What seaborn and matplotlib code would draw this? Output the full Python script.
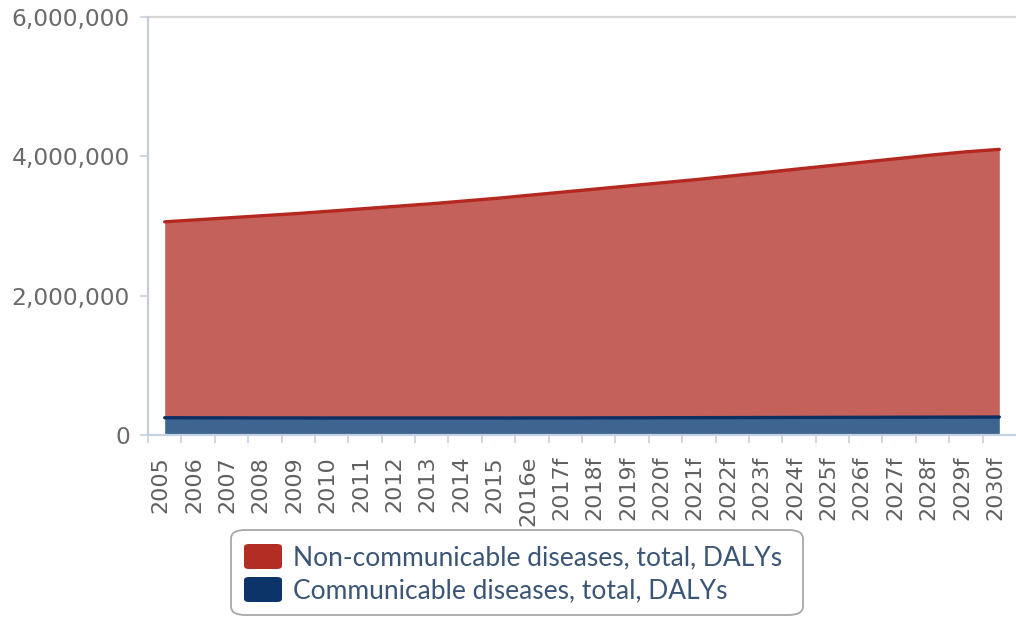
import matplotlib
matplotlib.use("Agg")
import matplotlib.pyplot as plt
import matplotlib.transforms as mtransforms
from matplotlib.patches import FancyBboxPatch
from matplotlib.ticker import FuncFormatter, FixedLocator
import seaborn as sns
import pandas as pd
import numpy as np

# --- data -------------------------------------------------------------------
years = ["2005", "2006", "2007", "2008", "2009", "2010", "2011", "2012", "2013",
         "2014", "2015", "2016e", "2017f", "2018f", "2019f", "2020f", "2021f",
         "2022f", "2023f", "2024f", "2025f", "2026f", "2027f", "2028f", "2029f",
         "2030f"]

communicable = [248000, 247000, 246000, 245000, 245000, 244000, 244000, 244000,
                244000, 244000, 244000, 245000, 245000, 246000, 247000, 248000,
                249000, 250000, 251000, 252000, 253000, 254000, 255000, 256000,
                257000, 258000]

non_communicable = [2812000, 2843000, 2874000, 2905000, 2935000, 2971000,
                    3006000, 3041000, 3076000, 3116000, 3156000, 3200000,
                    3245000, 3289000, 3333000, 3377000, 3421000, 3470000,
                    3519000, 3568000, 3617000, 3666000, 3715000, 3764000,
                    3808000, 3842000]

labels = ["Non-communicable diseases, total, DALYs",
          "Communicable diseases, total, DALYs"]
ytick_values = [0, 2000000, 4000000, 6000000]

# --- style ------------------------------------------------------------------
sns.set_theme(style="white")
plt.rcParams["font.family"] = ["DejaVu Sans"]

RED_FILL = "#c4615a"
RED_LINE = "#b4281f"
RED_KEY = "#b22d24"
BLUE_FILL = "#3e6590"
BLUE_LINE = "#0d2f62"
BLUE_KEY = "#0d3469"

x = np.arange(len(years))
comm = np.array(communicable, dtype=float)
total = comm + np.array(non_communicable, dtype=float)

df = pd.DataFrame({"x": np.concatenate([x, x]),
                   "y": np.concatenate([comm, total]),
                   "series": ["comm"] * len(x) + ["total"] * len(x)})

W, H = 1016, 617
fig = plt.figure(figsize=(W / 100, H / 100), dpi=100)
ax = fig.add_axes([148 / W, (H - 435) / H, (1016 - 148) / W, (435 - 17) / H])

# stacked areas
ax.fill_between(x, 0, comm, color=BLUE_FILL, lw=0, zorder=2)
ax.fill_between(x, comm, total, color=RED_FILL, lw=0, zorder=2)

# series edges
sns.lineplot(data=df, x="x", y="y", hue="series",
             palette={"comm": BLUE_LINE, "total": RED_LINE},
             linewidth=2.4, legend=False, ax=ax, zorder=3)

ax.set_xlim(-0.5, len(years) - 0.5)
ax.set_ylim(0, 6000000)
ax.set_xlabel("")
ax.set_ylabel("")

# gridline at the top value
ax.axhline(6000000, color="#d6d6d6", lw=1.6, zorder=1, clip_on=False)

# axes lines
for side in ["top", "right"]:
    ax.spines[side].set_visible(False)
ax.spines["left"].set_color("#c9ced6")
ax.spines["left"].set_linewidth(1.6)
ax.spines["bottom"].set_color("#c4d2e2")
ax.spines["bottom"].set_linewidth(1.6)
ax.spines["bottom"].set_zorder(4)

# y axis
ax.yaxis.set_major_locator(FixedLocator(ytick_values))
ax.yaxis.set_major_formatter(FuncFormatter(lambda v, p: f"{int(v):,}"))
ax.tick_params(axis="y", which="major", left=True, length=6, width=1.2,
               color="#c4d2e2", pad=7, labelsize=16.8, labelcolor="#6a6a6a")

# x axis: category labels at centres, tick marks at category boundaries
ax.set_xticks(x)
ax.set_xticklabels(years, rotation=90, ha="center", va="top")
ax.set_xticks(np.arange(len(years)) - 0.5, minor=True)
ax.tick_params(axis="x", which="major", bottom=True, length=0, pad=15,
               labelsize=16, labelcolor="#606060")
ax.tick_params(axis="x", which="minor", bottom=True, length=6, width=1.2,
               color="#c4d2e2")
shift = mtransforms.ScaledTranslation(-4 / 100, 0, fig.dpi_scale_trans)
for lbl in ax.get_xticklabels():
    lbl.set_transform(lbl.get_transform() + shift)

# legend box
box = FancyBboxPatch((231 / W, (H - 615) / H), (803 - 231) / W, (615 - 530) / H,
                     boxstyle="round,pad=0,rounding_size=0.014",
                     transform=fig.transFigure, facecolor="white",
                     edgecolor="#a8a8a8", lw=1.3, zorder=5)
fig.patches.append(box)

key_colors = [RED_KEY, BLUE_KEY]
key_tops = [544, 577]
for lab, col, top in zip(labels, key_colors, key_tops):
    key = FancyBboxPatch((244 / W, (H - top - 25) / H), 38 / W, 25 / H,
                         boxstyle="round,pad=0,rounding_size=0.005",
                         transform=fig.transFigure, facecolor=col,
                         edgecolor="none", zorder=6)
    fig.patches.append(key)
    fig.text(293 / W, (H - top - 13.5) / H, lab, ha="left", va="center",
             fontsize=19, color="#3b5577", zorder=7,
             family=["Lato", "DejaVu Sans"])

fig.savefig("out.png", dpi=100)
